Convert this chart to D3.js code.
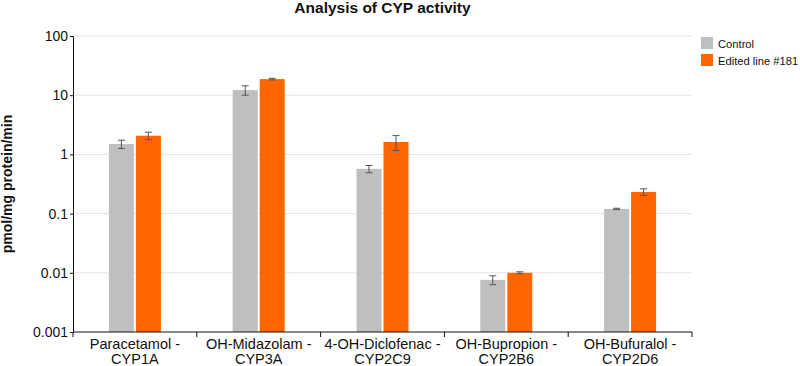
<!DOCTYPE html>
<html>
<head>
<meta charset="utf-8">
<script src="https://cdn.jsdelivr.net/npm/d3@7"></script>
<style>
  body { margin: 0; background: #fff; }
  svg { font-family: "Liberation Sans", Arial, sans-serif; }
</style>
</head>
<body>
<div id="chart"></div>
<script>
// data
const categories = [
    ["Paracetamol -", "CYP1A"],
    ["OH-Midazolam -", "CYP3A"],
    ["4-OH-Diclofenac -", "CYP2C9"],
    ["OH-Bupropion -", "CYP2B6"],
    ["OH-Bufuralol -", "CYP2D6"]
];
const seriesNames = ["Control", "Edited line #181"];
const controlValues = [1.5, 12.2, 0.57, 0.0076, 0.12];
const controlErrors = [0.24, 2.2, 0.08, 0.0013, 0.003];
const editedValues = [2.07, 18.7, 1.62, 0.0100, 0.232];
const editedErrors = [0.3, 0.6, 0.46, 0.0004, 0.03];
const yTicks = [0.001, 0.01, 0.1, 1, 10, 100];
const colors = ["#bfbfbf", "#ff6600"];

const width = 800, height = 366;
const margin = { top: 36, right: 108, bottom: 34, left: 73 };
const mgw = width - margin.left - margin.right,
    mgh = height - margin.top - margin.bottom;

const svg = d3.select("#chart").append("svg")
    .attr("width", width)
    .attr("height", height);

const g = svg.append("g")
    .attr("transform", "translate(" + margin.left + "," + margin.top + ")");

const catKeys = categories.map(c => c.join(" "));
let x0 = d3.scaleBand().domain(catKeys).range([0, mgw]).padding(0);
let y = d3.scaleLog().domain([0.001, 100]).range([mgh, 0]);

// gridlines
g.append("g")
    .selectAll("line")
    .data(yTicks.slice(1))
    .join("line")
    .attr("x1", 0).attr("x2", mgw)
    .attr("y1", d => y(d)).attr("y2", d => y(d))
    .attr("stroke", "#e3e3e3")
    .attr("stroke-width", 1);

// rows for the bars
const rows = [];
catKeys.forEach((k, i) => {
    rows.push({ cat: k, s: 0, v: controlValues[i], e: controlErrors[i] });
    rows.push({ cat: k, s: 1, v: editedValues[i], e: editedErrors[i] });
});

const x1 = d3.scaleBand().domain([0, 1])
    .range([x0.bandwidth() / 2 - 26, x0.bandwidth() / 2 + 26])
    .paddingInner(2 / 27);

g.append("g")
    .selectAll("rect")
    .data(rows)
    .join("rect")
    .attr("x", d => x0(d.cat) + x1(d.s))
    .attr("width", x1.bandwidth())
    .attr("y", d => y(d.v))
    .attr("height", d => mgh - y(d.v))
    .attr("fill", d => colors[d.s]);

// error bars
const err = g.append("g").attr("stroke", "#555").attr("stroke-width", 1);
rows.forEach(d => {
    const cx = x0(d.cat) + x1(d.s) + x1.bandwidth() / 2;
    const top = y(d.v + d.e), bot = y(d.v - d.e);
    err.append("line").attr("x1", cx).attr("x2", cx).attr("y1", top).attr("y2", bot);
    err.append("line").attr("x1", cx - 3.5).attr("x2", cx + 3.5).attr("y1", top).attr("y2", top);
    err.append("line").attr("x1", cx - 3.5).attr("x2", cx + 3.5).attr("y1", bot).attr("y2", bot);
});

// y axis
const yAxis = g.append("g")
    .call(d3.axisLeft(y).tickValues(yTicks).tickFormat(d3.format("~g")).tickSizeOuter(0).tickSize(3));
yAxis.selectAll("text").attr("font-size", 14).attr("fill", "#111").attr("x", -5);
yAxis.select(".domain").attr("stroke", "#111");
yAxis.selectAll(".tick line").attr("stroke", "#111");

// x axis: ticks on band boundaries
const xAxis = g.append("g").attr("transform", "translate(0," + mgh + ")");
xAxis.append("line").attr("x1", 0).attr("x2", mgw).attr("stroke", "#111");
xAxis.selectAll(".xt")
    .data(d3.range(catKeys.length + 1))
    .join("line")
    .attr("x1", i => i * x0.step()).attr("x2", i => i * x0.step())
    .attr("y1", 0).attr("y2", 5)
    .attr("stroke", "#111");
xAxis.selectAll(".xl")
    .data(categories)
    .join("text")
    .attr("text-anchor", "middle")
    .attr("font-size", 14.5)
    .attr("fill", "#111")
    .attr("transform", (d, i) => "translate(" + (x0(catKeys[i]) + x0.bandwidth() / 2) + ",0)")
    .each(function (d) {
        d3.select(this).selectAll("tspan")
            .data(d)
            .join("tspan")
            .attr("x", 0)
            .attr("y", (t, j) => 17 + j * 15)
            .text(t => t);
    });

// y axis title
svg.append("text")
    .attr("transform", "translate(12," + (margin.top + mgh / 2) + ") rotate(-90)")
    .attr("text-anchor", "middle")
    .attr("font-size", 14)
    .attr("font-weight", "bold")
    .attr("fill", "#111")
    .text("pmol/mg protein/min");

// title
svg.append("text")
    .attr("x", margin.left + mgw / 2)
    .attr("y", 13)
    .attr("text-anchor", "middle")
    .attr("font-size", 15.5)
    .attr("font-weight", "bold")
    .attr("fill", "#111")
    .text("Analysis of CYP activity");

// legend
const legend = svg.append("g").attr("transform", "translate(701,37)");
seriesNames.forEach((n, i) => {
    const row = legend.append("g").attr("transform", "translate(0," + i * 17 + ")");
    row.append("rect").attr("width", 12).attr("height", 12).attr("fill", colors[i]);
    row.append("text").attr("x", 17).attr("y", 10.5)
        .attr("font-size", 11.2).attr("fill", "#111").text(n);
});
</script>
</body>
</html>
